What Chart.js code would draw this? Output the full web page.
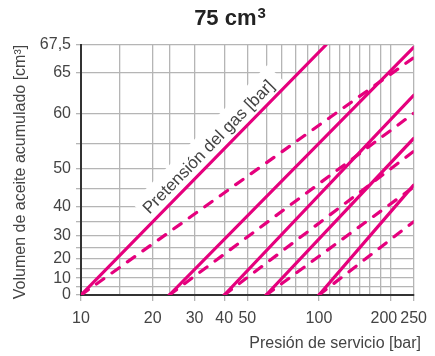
<!DOCTYPE html>
<html>
<head>
<meta charset="utf-8">
<script src="https://cdn.jsdelivr.net/npm/chart.js@4/dist/chart.umd.min.js"></script>
<style>
  html, body { margin: 0; padding: 0; background: #fff; }
  canvas { display: block; }
</style>
</head>
<body>
<canvas id="chart" width="435" height="356"></canvas>
<script>
// Operating pressure axis (bar), logarithmic
const pressureTicks = [10, 20, 30, 40, 50, 100, 200, 250];
const pressureTickLabels = ['10', '20', '30', '40', '50', '100', '200', '250'];
const pressureGrid = [10, 14.5, 20, 23.5, 30, 40, 50, 60, 70, 80, 90, 100,
                      110.4, 121.9, 134.6, 148.6, 164.1, 181.1, 200, 250];

// Stored oil volume axis (cm³)
const volumeTicks = [0, 10, 20, 30, 40, 50, 60, 65, 67.5];
const volumeTickLabels = ['0', '10', '20', '30', '40', '50', '60', '65', '67,5'];
const volumeGrid = [0, 5, 10, 15, 20, 25, 30, 35, 40, 45, 50, 55, 60, 65, 67.5];

// Gas pre-charge pressures (bar) – each curve starts at zero volume there
const precharge = [10, 23.5, 40, 60, 100];

// Isothermal curves (solid): end point of each one
const isoEndPressure = [107, 250, 250, 250, 250];
const isoEndVolume = [67.5, 67.3, 62.4, 56, 46];

// Adiabatic curves (dashed): end point of each one
const adiaEndPressure = [250, 250, 250, 250, 250];
const adiaEndVolume = [66.4, 60, 53.6, 45.5, 35];

const MAGENTA = '#e5007d';
const GRID = '#b5b5b5';
const AXIS = '#333333';
const TEXT = '#444444';
const FONT = '"Liberation Sans", Arial, Helvetica, sans-serif';

// Volume scale: stretched towards the top like the accumulator's gas law
const V_REF = 77.5;
const warp = v => -Math.log(1 - v / V_REF);
const unwarp = t => V_REF * (1 - Math.exp(-t));

class AccumulatedScale extends Chart.LinearScale {
  static id = 'accumulated';
  static defaults = Chart.LinearScale.defaults;
  buildTicks() {
    return volumeGrid.map(v => ({ value: v }));
  }
  getPixelForValue(value) {
    if (value === null || value === undefined) return NaN;
    const a = warp(this.min), b = warp(this.max);
    return this.getPixelForDecimal((warp(value) - a) / (b - a));
  }
  getValueForPixel(pixel) {
    const a = warp(this.min), b = warp(this.max);
    return unwarp(a + this.getDecimalForPixel(pixel) * (b - a));
  }
}
Chart.register(AccumulatedScale);

const datasets = [];
precharge.forEach((p0, i) => {
  datasets.push({
    label: 'isotherm ' + p0,
    data: [{ x: p0, y: 0 }, { x: isoEndPressure[i], y: isoEndVolume[i] }],
    borderColor: MAGENTA,
    borderWidth: 3.2,
    borderCapStyle: 'round',
    pointRadius: 0,
    fill: false
  });
});
precharge.forEach((p0, i) => {
  datasets.push({
    label: 'adiabat ' + p0,
    data: [{ x: p0, y: 0 }, { x: adiaEndPressure[i], y: adiaEndVolume[i] }],
    borderColor: MAGENTA,
    borderWidth: 3.2,
    borderDash: [9, 10],
    borderCapStyle: 'round',
    pointRadius: 0,
    fill: false
  });
});

const decorations = {
  id: 'decorations',
  beforeDatasetsDraw(chart) {
    // Label along the first pre-charge curve, on a white band
    const meta = chart.getDatasetMeta(0);
    const p1 = meta.data[0], p2 = meta.data[1];
    const dx = p2.x - p1.x, dy = p2.y - p1.y;
    const len = Math.hypot(dx, dy);
    const ang = Math.atan2(dy, dx);
    const ux = dx / len, uy = dy / len;
    const nx = uy, ny = -ux; // towards upper-left
    const along = 0.557 * len;
    const off = 12;
    const cx = p1.x + ux * along + nx * off;
    const cy = p1.y + uy * along + ny * off;
    const ctx = chart.ctx;
    const text = 'Pretensión del gas [bar]';
    ctx.save();
    ctx.translate(cx, cy);
    ctx.rotate(ang);
    ctx.font = '17px ' + FONT;
    const w = ctx.measureText(text).width;
    ctx.fillStyle = '#ffffff';
    ctx.fillRect(-w / 2 - 4, -16, w + 14, 28);
    ctx.fillStyle = TEXT;
    ctx.textAlign = 'center';
    ctx.textBaseline = 'middle';
    ctx.fillText(text, 0, 0);
    ctx.restore();
  },
  afterDraw(chart) {
    const ctx = chart.ctx;
    ctx.save();
    // Title with superscript unit
    ctx.fillStyle = '#222222';
    ctx.textBaseline = 'alphabetic';
    ctx.textAlign = 'left';
    ctx.font = 'bold 22px ' + FONT;
    const main = '75 cm';
    const wMain = ctx.measureText(main).width;
    ctx.font = 'bold 15px ' + FONT;
    const wSup = ctx.measureText('3').width;
    const x0 = 230 - (wMain + wSup + 1) / 2;
    ctx.font = 'bold 22px ' + FONT;
    ctx.fillText(main, x0, 25);
    ctx.font = 'bold 15px ' + FONT;
    ctx.fillText('3', x0 + wMain + 1, 18);
    // X axis title
    ctx.fillStyle = TEXT;
    ctx.font = '16px ' + FONT;
    ctx.textAlign = 'right';
    ctx.fillText('Presión de servicio [bar]', 421, 348);
    // Y axis title
    ctx.translate(25, 172);
    ctx.rotate(-Math.PI / 2);
    ctx.textAlign = 'center';
    ctx.fillText('Volumen de aceite acumulado [cm³]', 0, 0);
    ctx.restore();
  }
};

new Chart(document.getElementById('chart'), {
  type: 'line',
  data: { datasets },
  options: {
    responsive: false,
    animation: false,
    devicePixelRatio: 1,
    layout: { padding: { top: 45, right: 20, left: 0, bottom: 0 } },
    plugins: { legend: { display: false }, tooltip: { enabled: false }, title: { display: false } },
    elements: { line: { tension: 0 } },
    scales: {
      x: {
        type: 'logarithmic',
        min: 10,
        max: 250,
        afterBuildTicks: s => { s.ticks = pressureGrid.map(v => ({ value: v })); },
        afterFit: s => { s.height = 61; },
        grid: {
          color: GRID,
          lineWidth: 1.3,
          tickLength: 6,
          tickColor: c => (pressureTicks.includes(c.tick && c.tick.value) ? GRID : 'rgba(0,0,0,0)')
        },
        border: { color: AXIS, width: 2 },
        ticks: {
          autoSkip: false,
          maxRotation: 0,
          padding: 8,
          color: TEXT,
          font: { family: FONT, size: 16 },
          callback: v => {
            const i = pressureTicks.indexOf(v);
            if (i < 0) return '';
            // keep "200" clear of the neighbouring "250"
            return v === 200 ? pressureTickLabels[i] + '   ' : pressureTickLabels[i];
          }
        }
      },
      y: {
        type: 'accumulated',
        min: 0,
        max: 67.5,
        afterFit: s => { s.width = 81; },
        grid: { color: GRID, lineWidth: 1.3, tickLength: 5, tickColor: GRID },
        border: { color: AXIS, width: 2 },
        ticks: {
          autoSkip: false,
          padding: 5,
          color: TEXT,
          font: { family: FONT, size: 16 },
          callback: v => {
            const i = volumeTicks.indexOf(v);
            return i >= 0 ? volumeTickLabels[i] : '';
          }
        }
      }
    }
  },
  plugins: [decorations]
});
</script>
</body>
</html>
